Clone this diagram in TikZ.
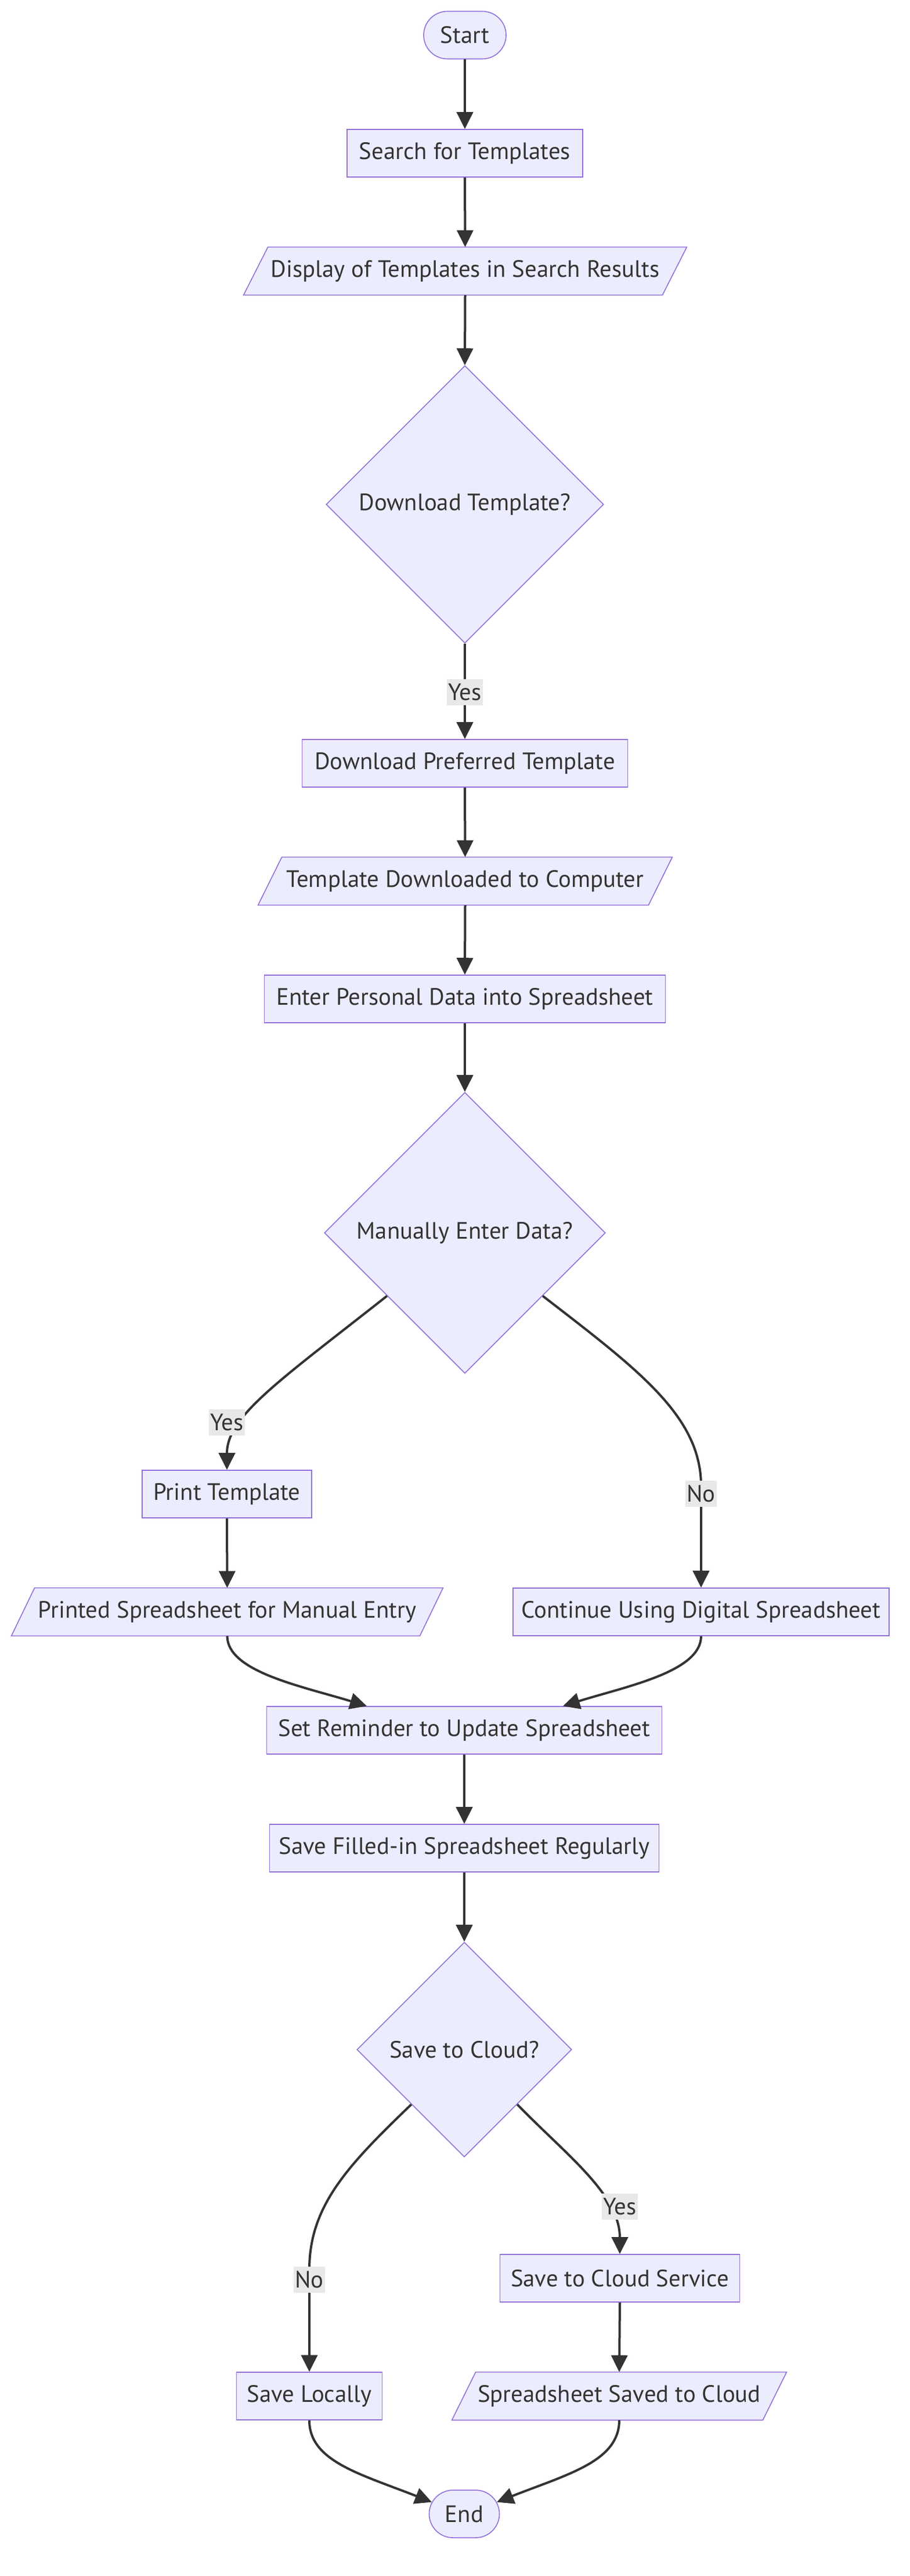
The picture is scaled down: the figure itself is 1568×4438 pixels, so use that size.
\documentclass[tikz,border=0pt]{standalone}
\usepackage{fontspec}
\setmainfont{PT Sans}
\usetikzlibrary{shapes.geometric,shapes.misc,arrows.meta,calc}
\definecolor{nfill}{HTML}{ECECFF}
\definecolor{nstroke}{HTML}{9370DB}
\definecolor{ink}{HTML}{333333}
\definecolor{lblbg}{HTML}{E8E8E8}
\pgfdeclarelayer{bg}
\pgfdeclarelayer{paper}
\pgfsetlayers{paper,bg,main}
\begin{document}
\begin{tikzpicture}[x=0.5pt,y=-0.5pt,
  font=\fontsize{20.4pt}{24pt}\selectfont, text=ink,
  base/.style={draw=nstroke, fill=nfill, line width=0.8pt, inner sep=0pt, minimum height=41pt},
  box/.style={base, rectangle},
  term/.style={base, rounded rectangle},
  dec/.style={base, diamond, aspect=1},
  paratext/.style={rectangle, inner sep=0pt, minimum height=41pt},
  parashape/.style={draw=nstroke, fill=nfill, line width=0.8pt, line join=miter},
  edge/.style={draw=ink, line width=2pt, -{Triangle[length=14.5pt,width=14pt]}},
  lbl/.style={fill=lblbg, inner xsep=1pt, inner ysep=0pt, minimum height=22.5pt, text=ink}
]
\begin{pgfonlayer}{paper}
\fill[white] (0,0) rectangle (1568,4438);
\end{pgfonlayer}
\useasboundingbox (0,0) rectangle (1568,4438);

% nodes
\node[term, minimum width=71pt] (start) at (801,60.5) {Start};
\node[box, minimum width=203pt] (search) at (801,264) {Search for Templates};
\node[paratext, minimum width=381.5pt] (disp) at (801.5,467) {Display of Templates in Search Results};
\node[dec, minimum width=239pt, minimum height=239pt] (d1) at (801,869) {Download Template?};
\node[box, minimum width=280.5pt] (dlpref) at (801,1315) {Download Preferred Template};
\node[paratext, minimum width=356.5pt] (tdl) at (801.5,1518) {Template Downloaded to Computer};
\node[box, minimum width=345.5pt] (enter) at (801,1721) {Enter Personal Data into Spreadsheet};
\node[dec, minimum width=242pt, minimum height=242pt] (d2) at (801,2124) {Manually Enter Data?};
\node[box, minimum width=146pt] (print) at (391,2574) {Print Template};
\node[paratext, minimum width=371.5pt] (printed) at (391.5,2777) {Printed Spreadsheet for Manual Entry};
\node[box, minimum width=324pt] (cont) at (1208,2777) {Continue Using Digital Spreadsheet};
\node[box, minimum width=340.5pt] (setrem) at (800,2981) {Set Reminder to Update Spreadsheet};
\node[box, minimum width=335.5pt] (savefill) at (800,3184) {Save Filled-in Spreadsheet Regularly};
\node[dec, minimum width=185pt, minimum height=185pt] (d3) at (800,3531) {Save to Cloud?};
\node[box, minimum width=206.5pt] (cloud) at (1068,3925) {Save to Cloud Service};
\node[box, minimum width=125.5pt] (saveloc) at (533,4128) {Save Locally};
\node[paratext, minimum width=288pt] (sps) at (1067,4128) {Spreadsheet Saved to Cloud};
\node[term, minimum width=60.5pt] (end) at (800,4331) {End};

% parallelogram outlines behind their texts
\begin{pgfonlayer}{bg}
\draw[parashape] ([xshift=21pt]disp.north west) -- (disp.north east) -- ([xshift=-21pt]disp.south east) -- (disp.south west) -- cycle;
\draw[parashape] ([xshift=20.5pt]tdl.north west) -- (tdl.north east) -- ([xshift=-20.5pt]tdl.south east) -- (tdl.south west) -- cycle;
\draw[parashape] ([xshift=20pt]printed.north west) -- (printed.north east) -- ([xshift=-20pt]printed.south east) -- (printed.south west) -- cycle;
\draw[parashape] ([xshift=20.5pt]sps.north west) -- (sps.north east) -- ([xshift=-20.5pt]sps.south east) -- (sps.south west) -- cycle;
\end{pgfonlayer}

% connectors
\draw[edge] (start.south) -- (search.north);
\draw[edge] (search.south) -- (disp.north);
\draw[edge] (disp.south) -- (d1.north);
\draw[edge] (d1.south) -- (dlpref.north);
\draw[edge] (dlpref.south) -- (tdl.north);
\draw[edge] (tdl.south) -- (enter.north);
\draw[edge] (enter.south) -- (d2.north);
\draw[edge] (d2.-141) .. controls (480,2380) and (391,2440) .. (print.north);
\draw[edge] (d2.-39) .. controls (1100,2360) and (1208,2440) .. (1208,2560) -- (cont.north);
\draw[edge] (print.south) -- (printed.north);
\draw[edge] (printed.south) .. controls (391.5,2880) and (520,2905) .. ([xshift=-84pt]setrem.north);
\draw[edge] (cont.south) .. controls (1208,2880) and (1080,2905) .. ([xshift=85pt]setrem.north);
\draw[edge] (setrem.south) -- (savefill.north);
\draw[edge] (savefill.south) -- (d3.north);
\draw[edge] (d3.-134) .. controls (600,3730) and (533,3800) .. (533,3910) -- (saveloc.north);
\draw[edge] (d3.-46) .. controls (975,3712) and (1068,3780) .. (cloud.north);
\draw[edge] (cloud.south) -- (sps.north);
\draw[edge] (saveloc.south) .. controls (533,4240) and (620,4262) .. (end.160);
\draw[edge] (sps.south) .. controls (1067,4240) and (980,4262) .. (end.20);

% edge labels
\node[lbl, minimum width=27.5pt] (ly1) at (801,1192) {Yes};
\node[lbl, minimum width=27.5pt] (ly2) at (391,2450) {Yes};
\node[lbl, minimum width=22.5pt] (ln2) at (1208,2573) {No};
\node[lbl, minimum width=27.5pt] (ly3) at (1068,3801) {Yes};
\node[lbl, minimum width=22.5pt] (ln3) at (533,3927) {No};
\end{tikzpicture}
\end{document}
